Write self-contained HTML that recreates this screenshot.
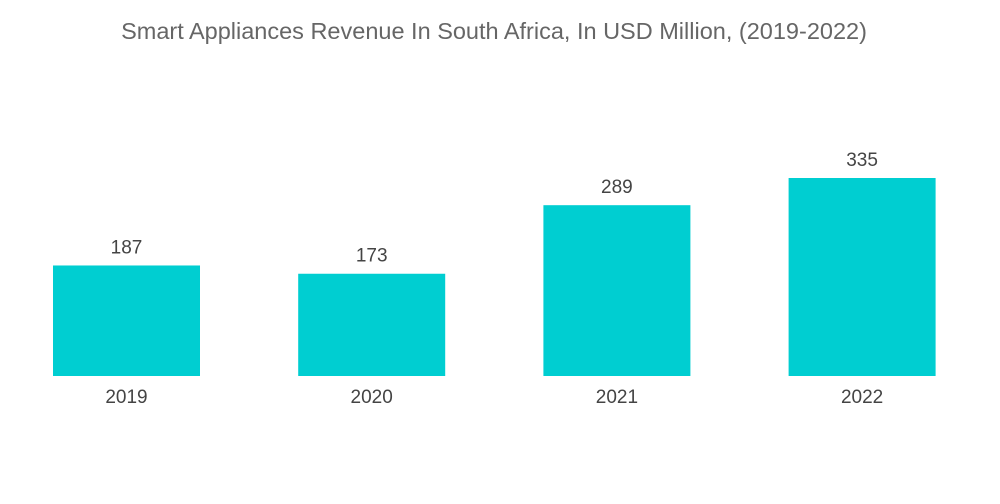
<!DOCTYPE html>
<html>
<head>
<meta charset="utf-8">
<style>
  html, body { margin: 0; padding: 0; background: #ffffff; }
  body { width: 1000px; height: 504px; overflow: hidden; font-family: "Liberation Sans", "DejaVu Sans", sans-serif; }
  svg { display: block; }
</style>
</head>
<body>
<svg id="chart" width="1000" height="504" viewBox="0 0 1000 504">
  <text x="494" y="39" text-anchor="middle" font-size="23.5" fill="#666666" font-family="Liberation Sans, sans-serif">Smart Appliances Revenue In South Africa, In USD Million, (2019-2022)</text>
  <g id="bars"></g>
</svg>
<script>
const categories = ["2019", "2020", "2021", "2022"];
const values = [187, 173, 289, 335];
const valueLabels = ["187", "173", "289", "335"];

const baseline = 376;
const pxPerUnit = 198 / 335;
const firstCenter = 126.5;
const step = 245.2;
const barWidth = 147;
function yScale(v) { return baseline - v * pxPerUnit; }
function xCenter(i) { return firstCenter + i * step; }

const ns = "http://www.w3.org/2000/svg";
const g = document.getElementById("bars");
categories.forEach(function (cat, i) {
  const cx = xCenter(i);
  const top = yScale(values[i]);
  const rect = document.createElementNS(ns, "rect");
  rect.setAttribute("x", cx - barWidth / 2);
  rect.setAttribute("y", top);
  rect.setAttribute("width", barWidth);
  rect.setAttribute("height", baseline - top);
  rect.setAttribute("fill", "#00ced1");
  
  
  g.appendChild(rect);

  const vl = document.createElementNS(ns, "text");
  vl.setAttribute("x", cx);
  vl.setAttribute("y", top - 12);
  vl.setAttribute("text-anchor", "middle");
  vl.setAttribute("font-size", "19");
  vl.setAttribute("fill", "#444444");
  vl.textContent = valueLabels[i];
  
  
  g.appendChild(vl);

  const cl = document.createElementNS(ns, "text");
  cl.setAttribute("x", cx);
  cl.setAttribute("y", baseline + 27);
  cl.setAttribute("text-anchor", "middle");
  cl.setAttribute("font-size", "19");
  cl.setAttribute("fill", "#444444");
  cl.textContent = cat;
  
  
  g.appendChild(cl);
});
</script>
</body>
</html>
